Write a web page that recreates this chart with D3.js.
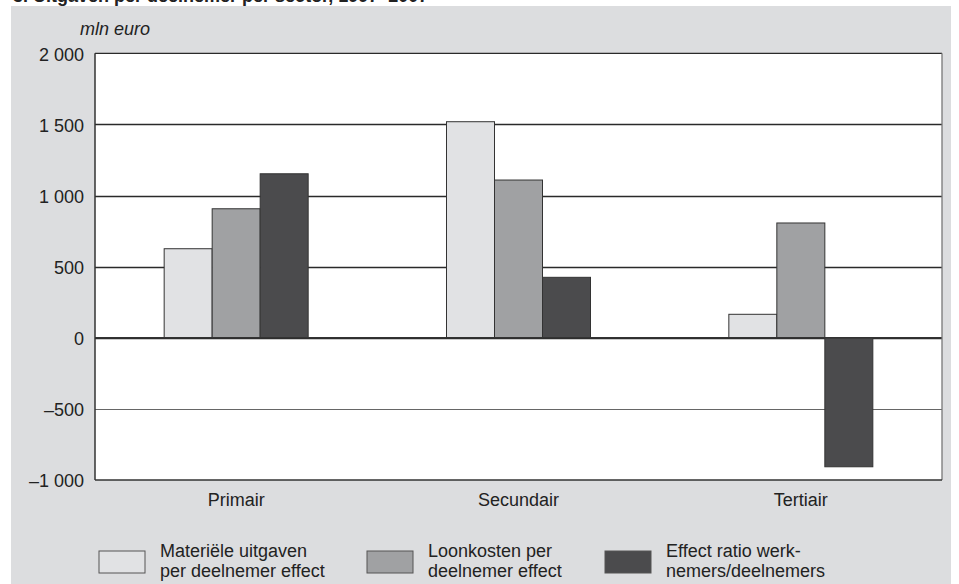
<!DOCTYPE html>
<html>
<head>
<meta charset="utf-8">
<script src="https://cdn.jsdelivr.net/npm/d3@7"></script>
<style>
  html, body { margin: 0; padding: 0; background: #ffffff; }
  svg { display: block; font-family: "Liberation Sans", Arial, sans-serif; }
</style>
</head>
<body>
<svg id="chart" width="959" height="584"></svg>
<script>
const categories = ["Primair", "Secundair", "Tertiair"];
const seriesNames = [
  ["Materiële uitgaven", "per deelnemer effect"],
  ["Loonkosten per", "deelnemer effect"],
  ["Effect ratio werk-", "nemers/deelnemers"]
];
const materieel = [626, 1519, 165];
const loonkosten = [907, 1109, 807];
const effectRatio = [1153, 425, -907];
const yTicks = [-1000, -500, 0, 500, 1000, 1500, 2000];
const colors = ["#e1e2e4", "#a0a1a3", "#4b4b4d"];

const series = [materieel, loonkosten, effectRatio];

const svg = d3.select("#chart");
const W = 959, H = 584;
const plot = { left: 95, right: 942, top: 53.3, bottom: 480 };

// gray panel
svg.append("rect").attr("x", 11).attr("y", 6).attr("width", 940).attr("height", H - 6).attr("fill", "#dcdddf");

// cut-off title (reference shows only its lower edge)
svg.append("text").attr("x", 13).attr("y", 2)
  .attr("font-size", 18).attr("font-weight", "bold").attr("fill", "#222")
  .text("3. Uitgaven per deelnemer per sector, 1997–2007");

// plot area
svg.append("rect").attr("x", plot.left).attr("y", plot.top)
  .attr("width", plot.right - plot.left).attr("height", plot.bottom - plot.top).attr("fill", "#ffffff");

const y = d3.scaleLinear().domain([-1000, 2000]).range([plot.bottom, plot.top]);
const x0 = d3.scaleBand().domain(categories).range([plot.left, plot.right]).paddingInner(0).paddingOuter(0);
const groupW = 144;
const x1 = d3.scaleBand().domain(d3.range(series.length)).range([0, groupW]).padding(0);

const fmt = v => {
  const s = d3.format(",")(Math.abs(v)).replace(/,/g, " ");
  return (v < 0 ? "–" : "") + s;
};

// gridlines
svg.append("g").selectAll("line").data(yTicks.filter(t => t > -1000 && t < 2000)).join("line")
  .attr("x1", plot.left).attr("x2", plot.right)
  .attr("y1", d => Math.round(y(d)) + 0.5).attr("y2", d => Math.round(y(d)) + 0.5)
  .attr("stroke", d => d < 0 ? "#666" : "#2a2a2a").attr("stroke-width", d => d < 0 ? 1 : 1.3);

// y axis labels
svg.append("g").selectAll("text").data(yTicks).join("text")
  .attr("x", 84).attr("y", d => y(d)).attr("dy", "0.4em")
  .attr("text-anchor", "end").attr("font-size", 18).attr("fill", "#222")
  .text(fmt);

svg.append("text").attr("x", 80).attr("y", 35).attr("font-size", 18)
  .attr("font-style", "italic").attr("fill", "#222").text("mln euro");

// bars
const groups = svg.append("g").selectAll("g").data(categories).join("g")
  .attr("transform", d => `translate(${x0(d) + (x0.bandwidth() - groupW) / 2},0)`);
groups.selectAll("rect").data((c, ci) => series.map((s, si) => ({ si, v: s[ci] }))).join("rect")
  .attr("x", d => x1(d.si)).attr("width", x1.bandwidth())
  .attr("y", d => y(Math.max(0, d.v))).attr("height", d => Math.abs(y(d.v) - y(0)))
  .attr("fill", d => colors[d.si]).attr("stroke", "#333").attr("stroke-width", 1);

// zero line over bars
svg.append("line").attr("x1", plot.left).attr("x2", plot.right)
  .attr("y1", y(0)).attr("y2", y(0)).attr("stroke", "#333").attr("stroke-width", 1.3);

// frame
svg.append("line").attr("x1", plot.left).attr("x2", plot.right).attr("y1", plot.top).attr("y2", plot.top).attr("stroke", "#2a2a2a").attr("stroke-width", 1.3);
svg.append("line").attr("x1", plot.right).attr("x2", plot.right).attr("y1", plot.top).attr("y2", plot.bottom).attr("stroke", "#777").attr("stroke-width", 1.3);
svg.append("line").attr("x1", plot.left).attr("x2", plot.right).attr("y1", plot.bottom).attr("y2", plot.bottom).attr("stroke", "#333").attr("stroke-width", 1.5);
svg.append("line").attr("x1", plot.left).attr("x2", plot.left).attr("y1", plot.top).attr("y2", plot.bottom).attr("stroke", "#333").attr("stroke-width", 1.5);

// category labels
svg.append("g").selectAll("text").data(categories).join("text")
  .attr("x", d => x0(d) + x0.bandwidth() / 2).attr("y", 506)
  .attr("text-anchor", "middle").attr("font-size", 18).attr("fill", "#222").text(d => d);

// legend
const legendX = [99, 367, 605];
const lg = svg.append("g").selectAll("g").data(seriesNames).join("g")
  .attr("transform", (d, i) => `translate(${legendX[i]},0)`);
lg.append("rect").attr("x", 0).attr("y", 551).attr("width", 46).attr("height", 22)
  .attr("fill", (d, i) => colors[i]).attr("stroke", "#555").attr("stroke-width", 1);
lg.append("text").attr("font-size", 18).attr("fill", "#222")
  .selectAll("tspan").data(d => d).join("tspan")
  .attr("x", 61).attr("y", (d, i) => 557 + i * 20).text(d => d);
</script>
</body>
</html>
